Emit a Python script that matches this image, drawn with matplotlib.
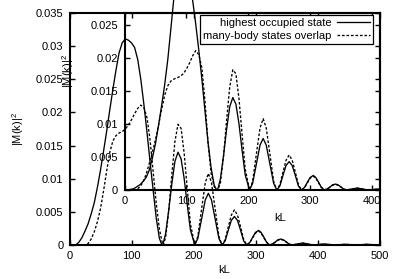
import matplotlib
matplotlib.use("Agg")
import matplotlib.pyplot as plt
from matplotlib.transforms import Bbox, TransformedBbox

plt.rcParams['font.family'] = ['Liberation Sans', 'DejaVu Sans']
plt.rcParams['font.size'] = 8
plt.rcParams['mathtext.fontset'] = 'custom'
plt.rcParams['mathtext.rm'] = 'Liberation Sans'
plt.rcParams['mathtext.default'] = 'regular'

# ---------------- data ----------------
kl = [0, 5, 10, 15, 20, 25, 30, 35, 40, 45, 50, 55, 60, 65, 70, 75, 80, 85, 90, 95,
      100, 105, 110, 115, 120, 125, 130, 135, 140, 145, 149, 151, 155, 160, 165, 170,
      175, 180, 185, 190, 195, 202, 207, 213, 219, 224, 229, 235, 241, 246, 251, 256,
      261, 266, 271, 276, 281, 286, 291, 295, 300, 305, 309, 314, 318, 323, 327, 332,
      336, 341, 345, 350, 354, 359, 367, 376, 385, 393, 402, 410, 419, 428, 436, 445,
      454, 462, 471, 480, 488, 497, 500]

main_solid = [0, 0, 0, 0.0004, 0.0011, 0.0021, 0.0032, 0.0047, 0.0064, 0.0087, 0.0113,
              0.0142, 0.0172, 0.0204, 0.0235, 0.0264, 0.0290, 0.0305, 0.0311, 0.0309,
              0.0305, 0.0298, 0.0280, 0.0250, 0.0212, 0.0170, 0.0125, 0.0082, 0.0040,
              0.0010, 0, 0.0002, 0.0017, 0.0052, 0.0092, 0.0126, 0.0140, 0.0130, 0.0100,
              0.0060, 0.0023, 0, 0.0010, 0.0039, 0.0068, 0.0078, 0.0068, 0.0039, 0.0010,
              0, 0.0006, 0.0022, 0.0037, 0.0043, 0.0037, 0.0022, 0.0006, 0, 0.0004,
              0.0011, 0.0019, 0.0022, 0.0019, 0.0011, 0.0004, 0, 0.00015, 0.00045,
              0.00077, 0.0009, 0.00077, 0.00045, 0.00015, 0, 0.00015, 0.0003, 0.00015,
              0, 0.00008, 0.00015, 0.00008, 0, 0.00005, 0.0001, 0.00005, 0, 0.00005,
              0.0001, 0.00005, 0, 0.00002]

main_dashed = [0, 0, 0, 0, 0, 0, 0.0002, 0.0009, 0.0020, 0.0035, 0.0055, 0.0082, 0.0112,
               0.0140, 0.0157, 0.0165, 0.0169, 0.0171, 0.0175, 0.0181, 0.0189, 0.0198,
               0.0206, 0.0211, 0.0207, 0.0192, 0.0158, 0.0110, 0.0062, 0.0024, 0.0006,
               0, 0.0011, 0.0051, 0.0106, 0.0156, 0.0182, 0.0176, 0.0138, 0.0084, 0.0032,
               0, 0.0013, 0.0054, 0.0094, 0.0108, 0.0094, 0.0054, 0.0013, 0, 0.0008,
               0.0027, 0.0045, 0.0053, 0.0045, 0.0027, 0.0008, 0, 0.0004, 0.0010, 0.0018,
               0.0021, 0.0018, 0.0010, 0.0004, 0, 0.00014, 0.00042, 0.00072, 0.00085,
               0.00072, 0.00042, 0.00014, 0, 0.00013, 0.00027, 0.00013, 0, 0.00007,
               0.00013, 0.00007, 0, 0.00005, 0.0001, 0.00005, 0, 0.00005, 0.0001,
               0.00005, 0, 0.00002]

# inset: first lobe differs, later lobes are the same as in the main panel
inset_solid_lobe1 = [0, 0, 0.0001, 0.0002, 0.0005, 0.0008, 0.0013, 0.0019, 0.0030, 0.0048,
                     0.0070, 0.0098, 0.0128, 0.0160, 0.0198, 0.0245, 0.0293, 0.0318,
                     0.0328, 0.0332, 0.0327, 0.0312, 0.0288, 0.0252, 0.0212, 0.0168,
                     0.0120, 0.0072, 0.0033, 0.0007, 0]
inset_dashed_lobe1 = [0, 0, 0, 0, 0.0001, 0.0005, 0.0012, 0.0024, 0.0040, 0.0057, 0.0076,
                      0.0098, 0.0122, 0.0144, 0.0158, 0.0165, 0.0168, 0.0170, 0.0172,
                      0.0176, 0.0183, 0.0192, 0.0203, 0.0211, 0.0205, 0.0185, 0.0135,
                      0.0071, 0.0025, 0.0005, 0]
inset_solid = inset_solid_lobe1 + main_solid[31:]
inset_dashed = inset_dashed_lobe1 + main_dashed[31:]

labels = ["highest occupied state", "many-body states overlap"]
main_xticks = [0, 100, 200, 300, 400, 500]
main_yticks = [0, 0.005, 0.01, 0.015, 0.02, 0.025, 0.03, 0.035]
main_yticklabels = ["0", "0.005", "0.01", "0.015", "0.02", "0.025", "0.03", "0.035"]
inset_xticks = [0, 100, 200, 300, 400]
inset_yticks = [0, 0.005, 0.01, 0.015, 0.02, 0.025]
inset_yticklabels = ["0", "0.005", "0.01", "0.015", "0.02", "0.025"]

# ---------------- figure ----------------
W, H = 399, 279
fig = plt.figure(figsize=(W / 100, H / 100), dpi=100)


def rect(l, t, r, b):
    return [l / W, 1 - b / H, (r - l) / W, (b - t) / H]


ax = fig.add_axes(rect(69.5, 13, 379.5, 245))
ins = fig.add_axes(rect(124.5, 13, 379.5, 190))
ins.patch.set_visible(False)

dash = (0, (2.0, 1.4))
lw = 0.95

ax.plot(kl, main_solid, color='black', lw=lw)
ax.plot(kl, main_dashed, color='black', lw=lw, ls=dash)

l1, = ins.plot(kl, inset_solid, color='black', lw=lw, label=labels[0])
l2, = ins.plot(kl, inset_dashed, color='black', lw=lw, ls=dash, label=labels[1])
cb = TransformedBbox(Bbox.from_extents(0, 0, 1, 3), ins.transAxes)
for ln in (l1, l2):
    ln.set_clip_box(cb)

ax.set_xlim(0, 500)
ax.set_ylim(0, 0.035)
ins.set_xlim(0, 412)
ins.set_ylim(0, 0.0268)

ax.set_xticks(main_xticks)
ax.set_xticklabels([str(t) for t in main_xticks])
ax.set_yticks(main_yticks)
ax.set_yticklabels(main_yticklabels)
ins.set_xticks(inset_xticks)
ins.set_xticklabels([str(t) for t in inset_xticks])
ins.set_yticks(inset_yticks)
ins.set_yticklabels(inset_yticklabels)

for a in (ax, ins):
    a.tick_params(direction='in', top=True, right=True, length=3.5, width=1.0,
                  pad=4.5, labelsize=8, colors='black')
    for s in a.spines.values():
        s.set_linewidth(1.5)
        s.set_color('black')

ax.set_xlabel("kL", va='center')
ax.xaxis.set_label_coords(0.5, -0.108)
ax.set_ylabel(r"$|M(k)|^2$", va='center')
ax.yaxis.set_label_coords(-0.166, 0.5)

ins.set_xlabel("kL", va='center')
ins.xaxis.set_label_coords(0.61, -0.158)
ins.set_ylabel(r"$|M(k)|^2$", va='center')
ins.yaxis.set_label_coords(-0.222, 0.672)

leg = ins.legend(handles=[l1, l2], loc='upper right', bbox_to_anchor=(0.9745, 0.9887),
                 borderaxespad=0, markerfirst=False, handlelength=2.9,
                 handletextpad=0.55, labelspacing=0.2, borderpad=0.3,
                 fancybox=False, framealpha=1, edgecolor='black', fontsize=8)
leg.get_frame().set_linewidth(0.9)

fig.savefig("out.png", dpi=100)
